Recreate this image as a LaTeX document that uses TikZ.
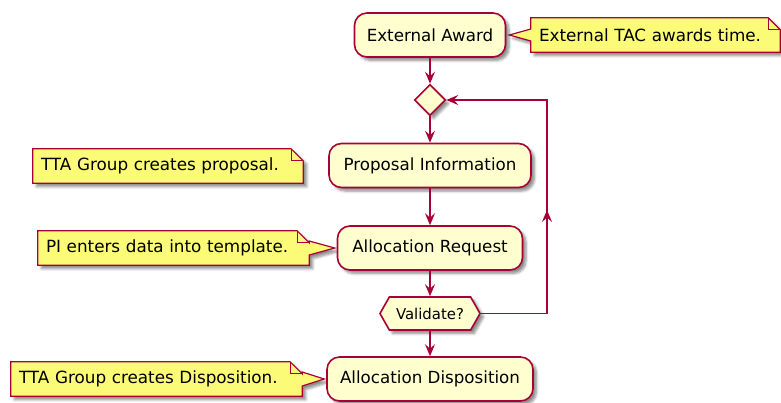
\documentclass[tikz,border=0pt]{standalone}
\usepackage{fontspec}
\setmainfont{DejaVu Sans}
\usetikzlibrary{shapes.geometric,shapes.symbols,shadows.blur,arrows.meta,backgrounds}

\definecolor{umlred}{HTML}{A80036}
\definecolor{actfill}{HTML}{FEFECE}
\definecolor{notefill}{HTML}{FBFB77}

\tikzset{
  umlshadow/.style={blur shadow={shadow xshift=3.5pt, shadow yshift=-3.5pt,
    shadow blur radius=2.5pt, shadow blur steps=6, shadow opacity=45}},
  act/.style={draw=umlred, fill=actfill, line width=1.6pt, rounded corners=12.5pt,
    minimum height=44pt, inner sep=0pt, umlshadow, font=\fontsize{16.7}{20}\selectfont},
  choice/.style={diamond, aspect=1, draw=umlred, fill=actfill, line width=1.6pt,
    minimum size=31pt, inner sep=0pt, umlshadow},
  hexbox/.style={signal, signal to=west and east, signal pointer angle=121,
    draw=umlred, fill=actfill, line width=1.6pt, minimum height=33pt, inner sep=0pt,
    umlshadow, font=\fontsize{14.9}{18}\selectfont},
  note/.style={inner xsep=8pt, inner ysep=0pt, minimum height=34pt, align=left,
    font=\fontsize{16.8}{20}\selectfont},
  notebg/.style={draw=umlred, fill=notefill, line width=1.2pt, umlshadow},
  notefold/.style={draw=umlred, line width=1.2pt},
  flow/.style={draw=umlred, line width=1.6pt, -{Stealth[length=12pt,width=10pt,inset=4.5pt]}}
}

\begin{document}
\begin{tikzpicture}[x=1pt, y=-1pt]
\useasboundingbox (0,0) rectangle (781,402);

% Activities
\node[act, minimum width=151pt] (award) at (430,35) {External Award};
\node[choice] (merge) at (430,100) {};
\node[act, minimum width=202pt] (prop) at (430,165.5) {Proposal Information};
\node[act, minimum width=185pt] (req) at (430,248) {Allocation Request};
\node[hexbox, minimum width=100pt] (valid) at (430,313.5) {Validate?};
\node[act, minimum width=206pt] (disp) at (430,379) {Allocation Disposition};

% Flow
\draw[flow] (award) -- (merge);
\draw[flow] (merge) -- (prop);
\draw[flow] (prop) -- (req);
\draw[flow] (req) -- (valid);
\draw[flow] (valid) -- (disp);

% Loop back to the merge point
\coordinate (loopbot) at (547,313.5);
\coordinate (looptop) at (547,100);
\coordinate (loopmid) at (547,210);
\draw[flow] (valid.east) -- (loopbot) -- (looptop) -- (merge.east);
\draw[flow] (loopbot) -- (loopmid);

% Notes
\node[note, text width=233pt] (nAward) at (655.5,35) {External TAC awards time.};
\node[note, text width=254pt] (nProp) at (168,166) {TTA Group creates proposal.};
\node[note, text width=255pt] (nReq) at (173.5,248) {PI enters data into template.};
\node[note, text width=275pt] (nDisp) at (156.5,379) {TTA Group creates Disposition.};

\coordinate (awardtip) at ([xshift=3pt]award.east);
\coordinate (reqtip) at ([xshift=-2pt]req.west);
\coordinate (disptip) at ([xshift=-2pt]disp.west);

\begin{scope}[on background layer]
% note on the right, pointer on its left edge
\draw[notebg] (nAward.north west) -- ([xshift=-12pt]nAward.north east)
  -- ([yshift=-12pt]nAward.north east) -- (nAward.south east) -- (nAward.south west)
  -- ([yshift=-6pt]nAward.west) -- (awardtip) -- ([yshift=6pt]nAward.west) -- cycle;
% floating note
\draw[notebg] (nProp.north west) -- ([xshift=-12pt]nProp.north east)
  -- ([yshift=-12pt]nProp.north east) -- (nProp.south east) -- (nProp.south west) -- cycle;
% notes on the left, pointer on their right edge
\draw[notebg] (nReq.north west) -- ([xshift=-12pt]nReq.north east)
  -- ([yshift=-12pt]nReq.north east) -- ([yshift=7pt]nReq.east) -- (reqtip)
  -- ([yshift=-7pt]nReq.east) -- (nReq.south east) -- (nReq.south west) -- cycle;
\draw[notebg] (nDisp.north west) -- ([xshift=-12pt]nDisp.north east)
  -- ([yshift=-12pt]nDisp.north east) -- ([yshift=7pt]nDisp.east) -- (disptip)
  -- ([yshift=-7pt]nDisp.east) -- (nDisp.south east) -- (nDisp.south west) -- cycle;
\end{scope}

% folded corners
\foreach \n in {nAward, nProp, nReq, nDisp}
  \draw[notefold] ([xshift=-12pt]\n.north east) |- ([yshift=-12pt]\n.north east);

\end{tikzpicture}
\end{document}
